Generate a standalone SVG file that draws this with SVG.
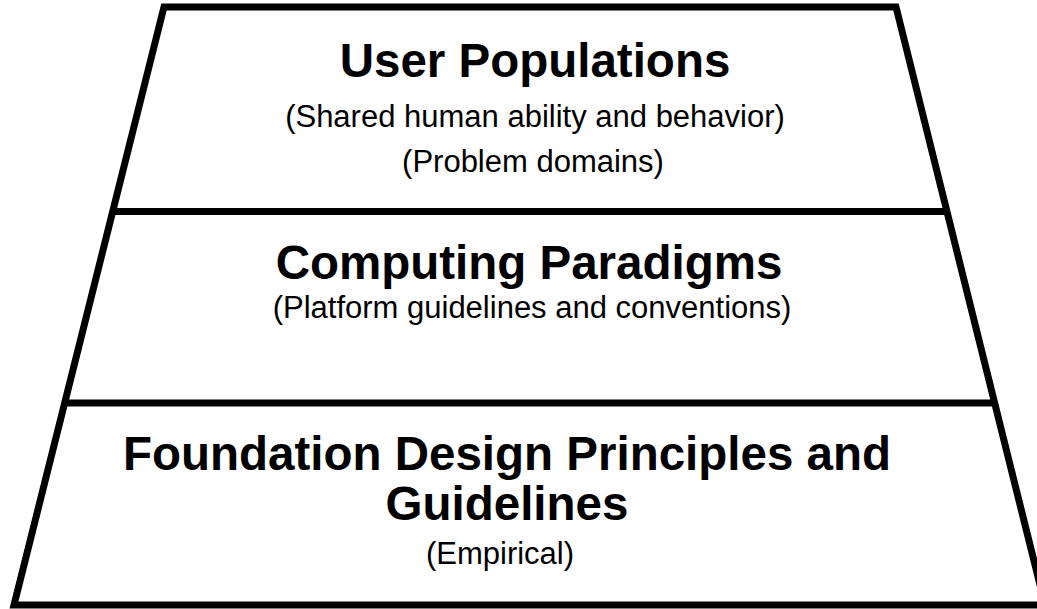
<svg xmlns="http://www.w3.org/2000/svg" width="1037" height="609" viewBox="0 0 1037 609">
  <style>
    .edge { fill: none; stroke: #000; stroke-width: 7; stroke-linejoin: miter; }
    .title { font-family: "Liberation Sans", Arial, sans-serif; font-weight: bold; font-size: 47.5px; fill: #000; text-anchor: middle; }
    .sub { font-family: "Liberation Sans", Arial, sans-serif; font-size: 31px; fill: #000; text-anchor: middle; }
  </style>
  <rect width="1037" height="609" fill="#fff"/>

  <!-- pyramid outline and tier dividers -->
  <g id="connectors">
    <polygon class="edge" points="164,7 896,7 1045,605 14,605"/>
    <line class="edge" x1="113" y1="211.5" x2="947" y2="211.5"/>
    <line class="edge" x1="65" y1="403" x2="995" y2="403"/>
  </g>

  <g id="tier-user-populations">
    <text class="title" x="535" y="77">User Populations</text>
    <text class="sub" x="535" y="127">(Shared human ability and behavior)</text>
    <text class="sub" x="533" y="172">(Problem domains)</text>
  </g>

  <g id="tier-computing-paradigms">
    <text class="title" x="529" y="279">Computing Paradigms</text>
    <text class="sub" x="532" y="318">(Platform guidelines and conventions)</text>
  </g>

  <g id="tier-foundation">
    <text class="title" x="507" y="470">Foundation Design Principles and</text>
    <text class="title" x="507" y="520">Guidelines</text>
    <text class="sub" x="500" y="564">(Empirical)</text>
  </g>
</svg>
